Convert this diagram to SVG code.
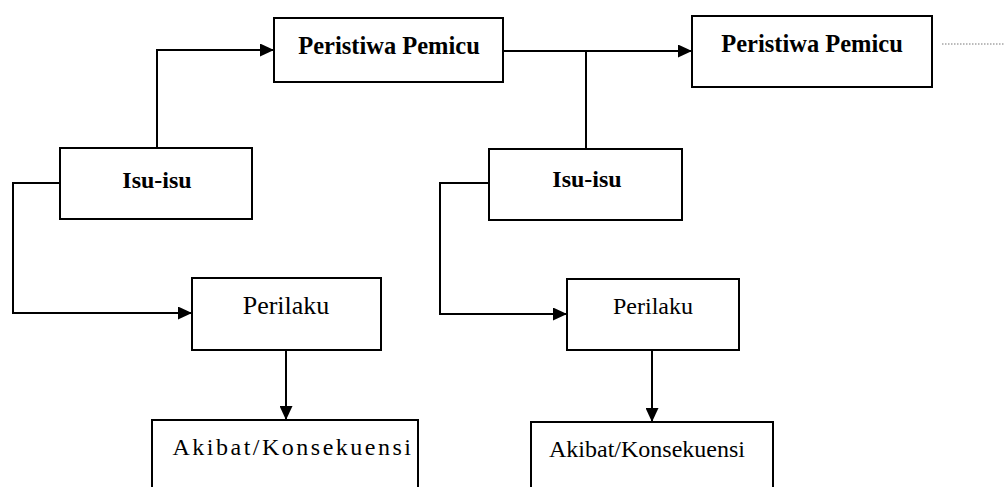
<svg xmlns="http://www.w3.org/2000/svg" width="1004" height="487" viewBox="0 0 1004 487">
<style>
.box{fill:#fff;stroke:#000;stroke-width:2}
.t{font-family:"Liberation Serif","Times New Roman",serif;font-size:25px;fill:#000;text-anchor:middle}
.b{font-weight:bold}
.c{fill:none;stroke:#000;stroke-width:2}
</style>
<defs>
<marker id="arr" markerUnits="userSpaceOnUse" markerWidth="15" markerHeight="13" refX="14" refY="6.5" orient="auto">
<path d="M0,0 L14,6.5 L0,13 Z" fill="#000"/>
</marker>
</defs>
<rect width="1004" height="487" fill="#fff"/>
<g id="connectors">
<path class="c" d="M157,148 V50 H274" marker-end="url(#arr)"/>
<path class="c" d="M60,183 H13 V313 H192" marker-end="url(#arr)"/>
<path class="c" d="M286,350 V420" marker-end="url(#arr)"/>
<path class="c" d="M503,51 H692" marker-end="url(#arr)"/>
<path class="c" d="M586,51 V149"/>
<path class="c" d="M489,183 H440 V314 H567" marker-end="url(#arr)"/>
<path class="c" d="M652,350 V422" marker-end="url(#arr)"/>
<path d="M942,44 H1004" stroke="#777" stroke-width="1" stroke-dasharray="1.5,1.5" fill="none"/>
</g>
<g id="peristiwa1">
<rect class="box" x="274" y="18" width="229" height="64"/>
<text class="t b" x="389" y="54" style="font-size:24.5px">Peristiwa Pemicu</text>
</g>
<g id="peristiwa2">
<rect class="box" x="692" y="16" width="240" height="71"/>
<text class="t b" x="812" y="52" style="font-size:24.5px">Peristiwa Pemicu</text>
</g>
<g id="isu1">
<rect class="box" x="60" y="148" width="192" height="71"/>
<text class="t b" x="157" y="188" style="font-size:24px">Isu-isu</text>
</g>
<g id="isu2">
<rect class="box" x="489" y="149" width="193" height="71"/>
<text class="t b" x="587" y="187" style="font-size:24px">Isu-isu</text>
</g>
<g id="perilaku1">
<rect class="box" x="192" y="278" width="189" height="72"/>
<text class="t" x="286" y="314" style="font-size:26px">Perilaku</text>
</g>
<g id="perilaku2">
<rect class="box" x="567" y="279" width="172" height="71"/>
<text class="t" x="653" y="314" style="font-size:24px">Perilaku</text>
</g>
<g id="akibat1">
<rect class="box" x="152" y="420" width="266" height="80"/>
<text class="t" x="293" y="455" style="font-size:24px;letter-spacing:2.5px">Akibat/Konsekuensi</text>
</g>
<g id="akibat2">
<rect class="box" x="531" y="422" width="242" height="80"/>
<text class="t" x="647" y="457" style="font-size:24px">Akibat/Konsekuensi</text>
</g>
</svg>
